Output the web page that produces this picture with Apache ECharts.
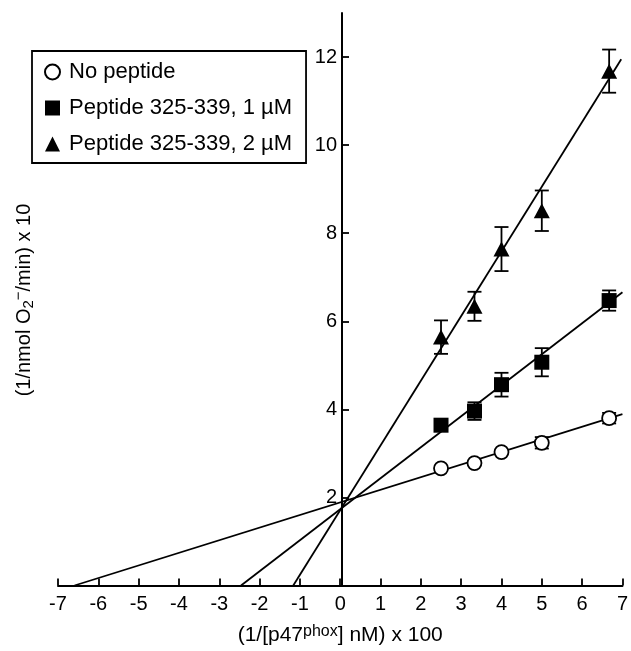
<!DOCTYPE html>
<html>
<head>
<meta charset="utf-8">
<script src="https://cdn.jsdelivr.net/npm/echarts@6/dist/echarts.min.js"></script>
<style>
  html, body { margin: 0; padding: 0; background: #fff; }
  #chart { width: 631px; height: 651px; }
</style>
</head>
<body>
<div id="chart"></div>
<script>
  // x = (1/[p47phox] nM) x 100
  const xVals = [2.5, 3.33, 4, 5, 6.67];

  const noPeptide = [2.66, 2.78, 3.03, 3.24, 3.80];
  const noPeptideErr = [0, 0, 0, 0.13, 0.12];

  const pep1 = [3.64, 3.96, 4.56, 5.07, 6.47];
  const pep1Err = [0.12, 0.2, 0.27, 0.32, 0.23];

  const pep2 = [5.64, 6.34, 7.64, 8.51, 11.68];
  const pep2Err = [0.38, 0.33, 0.5, 0.46, 0.49];

  // fitted lines (x intercept -> right end)
  const noPeptideFit = [[-6.59, 0], [7.0, 3.89]];
  const pep1Fit = [[-2.46, 0], [7.0, 6.66]];
  const pep2Fit = [[-1.165, 0], [6.97, 11.95]];

  const xTicks = [-7, -6, -5, -4, -3, -2, -1, 0, 1, 2, 3, 4, 5, 6, 7];
  const yTicks = [2, 4, 6, 8, 10, 12];

  const names = ['No peptide', 'Peptide 325-339, 1 \u00b5M', 'Peptide 325-339, 2 \u00b5M'];

  const font = 'Liberation Sans';

  function pts(ys, errs) {
    return xVals.map((x, i) => [x, ys[i], errs[i]]);
  }

  function errBars(ys, errs) {
    return {
      type: 'custom',
      data: pts(ys, errs),
      z: 2,
      silent: true,
      renderItem: function (params, api) {
        const x = api.value(0), y = api.value(1), e = api.value(2);
        if (!e) return null;
        const top = api.coord([x, y + e]);
        const bot = api.coord([x, y - e]);
        const hw = 7;
        const st = { stroke: '#000', lineWidth: 1.8 };
        return {
          type: 'group',
          children: [
            { type: 'line', shape: { x1: top[0], y1: top[1], x2: bot[0], y2: bot[1] }, style: st },
            { type: 'line', shape: { x1: top[0] - hw, y1: top[1], x2: top[0] + hw, y2: top[1] }, style: st },
            { type: 'line', shape: { x1: bot[0] - hw, y1: bot[1], x2: bot[0] + hw, y2: bot[1] }, style: st }
          ]
        };
      }
    };
  }

  function fitLine(d) {
    return {
      type: 'line',
      data: d,
      showSymbol: false,
      silent: true,
      z: 1,
      lineStyle: { color: '#000', width: 1.8 }
    };
  }

  let myChart = echarts.init(document.getElementById('chart'));

  // grid is 568px wide for 14 units, so x = 0 sits 284px right of the left edge
  const yAxisShift = -284;

  let option = {
    backgroundColor: '#fff',
    animation: false,
    textStyle: { fontFamily: font, color: '#000' },
    grid: { left: 58, right: 5, top: 13, bottom: 64 },
    legend: {
      orient: 'vertical',
      left: 32,
      top: 51,
      padding: [10, 14, 8, 12],
      itemWidth: 15,
      itemHeight: 15,
      itemGap: 14,
      backgroundColor: '#fff',
      borderColor: '#000',
      borderWidth: 1.8,
      textStyle: { fontSize: 22, fontFamily: font, color: '#000', lineHeight: 22, padding: [0, 0, 0, 4] },
      data: names
    },
    xAxis: {
      type: 'value',
      min: -7,
      max: 7,
      interval: 1,
      name: '(1/[p47{sup|phox}] nM) x 100',
      nameLocation: 'middle',
      nameGap: 38,
      nameTextStyle: {
        fontSize: 21,
        fontFamily: font,
        color: '#000',
        rich: { sup: { fontSize: 16, fontFamily: font, color: '#000', verticalAlign: 'top', padding: [0, 0, 8, 0] } }
      },
      axisLine: { onZero: false, lineStyle: { color: '#000', width: 2 } },
      axisTick: { inside: true, length: 7, lineStyle: { color: '#000', width: 1.8 }, customValues: xTicks },
      axisLabel: { fontSize: 20, fontFamily: font, color: '#000', margin: 9, customValues: xTicks },
      splitLine: { show: false }
    },
    yAxis: {
      type: 'value',
      min: 0,
      max: 13,
      interval: 2,
      offset: yAxisShift,
      axisLine: { onZero: false, lineStyle: { color: '#000', width: 2 } },
      axisTick: { inside: true, length: 7, lineStyle: { color: '#000', width: 1.8 }, customValues: yTicks },
      axisLabel: { fontSize: 20, fontFamily: font, color: '#000', margin: 5, customValues: yTicks },
      splitLine: { show: false }
    },
    graphic: [
      {
        type: 'text',
        x: 24,
        y: 300,
        rotation: Math.PI / 2,
        style: {
          text: '(1/nmol O{sub|2}{sup|\u2212}/min) x 10',
          font: '20px "Liberation Sans"',
          fill: '#000',
          align: 'center',
          verticalAlign: 'middle',
          rich: {
            sub: { fontSize: 15, fontFamily: font, fill: '#000', padding: [10, 0, 0, 0] },
            sup: { fontSize: 15, fontFamily: font, fill: '#000', padding: [0, 0, 10, 0] }
          }
        }
      }
    ],
    series: [
      fitLine(noPeptideFit),
      fitLine(pep1Fit),
      fitLine(pep2Fit),
      errBars(noPeptide, noPeptideErr),
      errBars(pep1, pep1Err),
      errBars(pep2, pep2Err),
      {
        name: names[0],
        type: 'scatter',
        data: pts(noPeptide, noPeptideErr),
        symbol: 'circle',
        symbolSize: 14,
        z: 3,
        itemStyle: { color: '#fff', borderColor: '#000', borderWidth: 1.8, opacity: 1 }
      },
      {
        name: names[1],
        type: 'scatter',
        data: pts(pep1, pep1Err),
        symbol: 'rect',
        symbolSize: 15,
        z: 3,
        itemStyle: { color: '#000', opacity: 1 }
      },
      {
        name: names[2],
        type: 'scatter',
        data: pts(pep2, pep2Err),
        symbol: 'triangle',
        symbolSize: [16, 15],
        z: 3,
        itemStyle: { color: '#000', opacity: 1 }
      }
    ]
  };

  myChart.setOption(option);
  window.addEventListener('resize', () => {
    myChart.resize();
  });
</script>
</body>
</html>
